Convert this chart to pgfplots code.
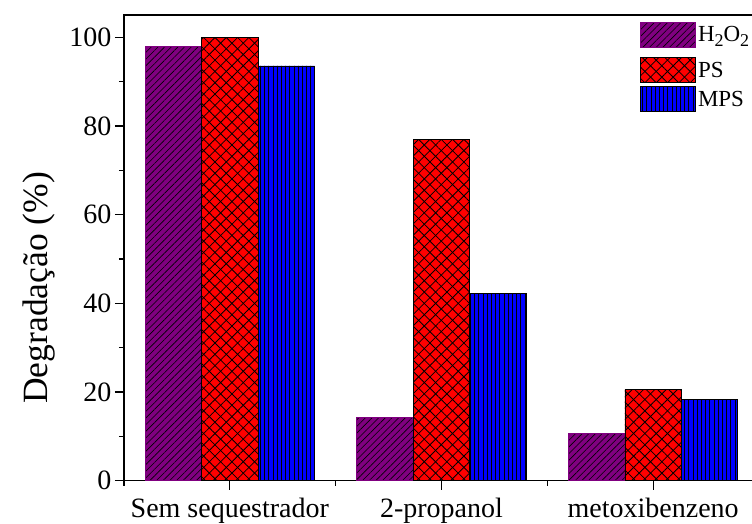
\documentclass[border=0pt]{standalone}
\usepackage{fontspec}
\setmainfont{Liberation Serif}
\usepackage{pgfplots}
\pgfplotsset{compat=1.18}
\usetikzlibrary{patterns.meta}

\definecolor{barpurple}{RGB}{128,0,128}
\definecolor{barred}{RGB}{255,0,0}
\definecolor{barblue}{RGB}{0,0,255}

\newcommand{\lowsub}[1]{\raisebox{-0.45ex}{\fontsize{18}{20}\selectfont #1}}

% legend swatch; the spaced variant leaves extra room below its row
\pgfplotsset{
  swatch/.style={legend image code/.code={\draw[##1] (0pt,-12.5pt) rectangle (55pt,12.5pt);}},
  spaced swatch/.style={legend image code/.code={\draw[##1] (0pt,-12.5pt) rectangle (55pt,12.5pt); \path (0pt,-19pt);}},
}

\begin{document}
\begin{tikzpicture}
\begin{axis}[
  scale only axis,
  width=635pt, height=465.7pt,
  xmin=0.5, xmax=3.5, ymin=0, ymax=105,
  ybar, bar width=0.2667,
  axis line style={line width=1.3pt},
  xtick={1,2,3},
  xticklabels={Sem sequestrador,2-propanol,metoxibenzeno},
  minor xtick={0.5,1.5,2.5,3.5},
  ytick={0,20,40,60,80,100},
  minor ytick={10,30,50,70,90},
  xtick pos=bottom, ytick pos=left,
  tick align=outside,
  major tick length=9pt, minor tick length=5pt,
  every tick/.style={line width=1.3pt, black},
  /pgf/number format/assume math mode=true,
  tick label style={font=\fontsize{28}{32}\selectfont},
  xticklabel style={yshift=-5pt},
  ylabel={Degradação (\%)},
  ylabel style={font=\fontsize{35.5}{40}\selectfont, at={(ticklabel cs:0.414,7pt)}},
  legend cell align=left,
  swatch,
  legend style={
    at={(rel axis cs:0.8126,0.985)}, anchor=north west,
    draw=none, fill=none, inner sep=0pt, row sep=3pt,
    font=\fontsize{23}{26}\selectfont,
    nodes={inner sep=2pt},
  },
]
% H2O2
\addplot[bar shift=-0.2667, fill=barpurple, draw=barpurple, line width=0.8pt,
  postaction={pattern={Lines[angle=45,distance=4.7pt,line width=0.6pt]}, pattern color=black},
  spaced swatch]
  coordinates {(1,98.0) (2,14.2) (3,10.7)};
% PS
\addplot[bar shift=0, fill=barred, draw=black, line width=0.8pt,
  postaction={pattern={Lines[angle=45,distance=8pt,line width=0.8pt]}, pattern color=black},
  postaction={pattern={Lines[angle=-45,distance=8pt,line width=0.8pt]}, pattern color=black}]
  coordinates {(1,100.0) (2,77.0) (3,20.6)};
% MPS
\addplot[bar shift=0.2667, fill=barblue, draw=black, line width=0.8pt,
  postaction={pattern={Lines[angle=90,distance=4.2pt,line width=0.7pt]}, pattern color=black}]
  coordinates {(1,93.5) (2,42.2) (3,18.4)};
\legend{H\lowsub{2}O\lowsub{2},PS,MPS}
\end{axis}
\pgfresetboundingbox
\path[use as bounding box] (-124pt,-43.3pt) rectangle (628pt,480.7pt);
\end{tikzpicture}
\end{document}
